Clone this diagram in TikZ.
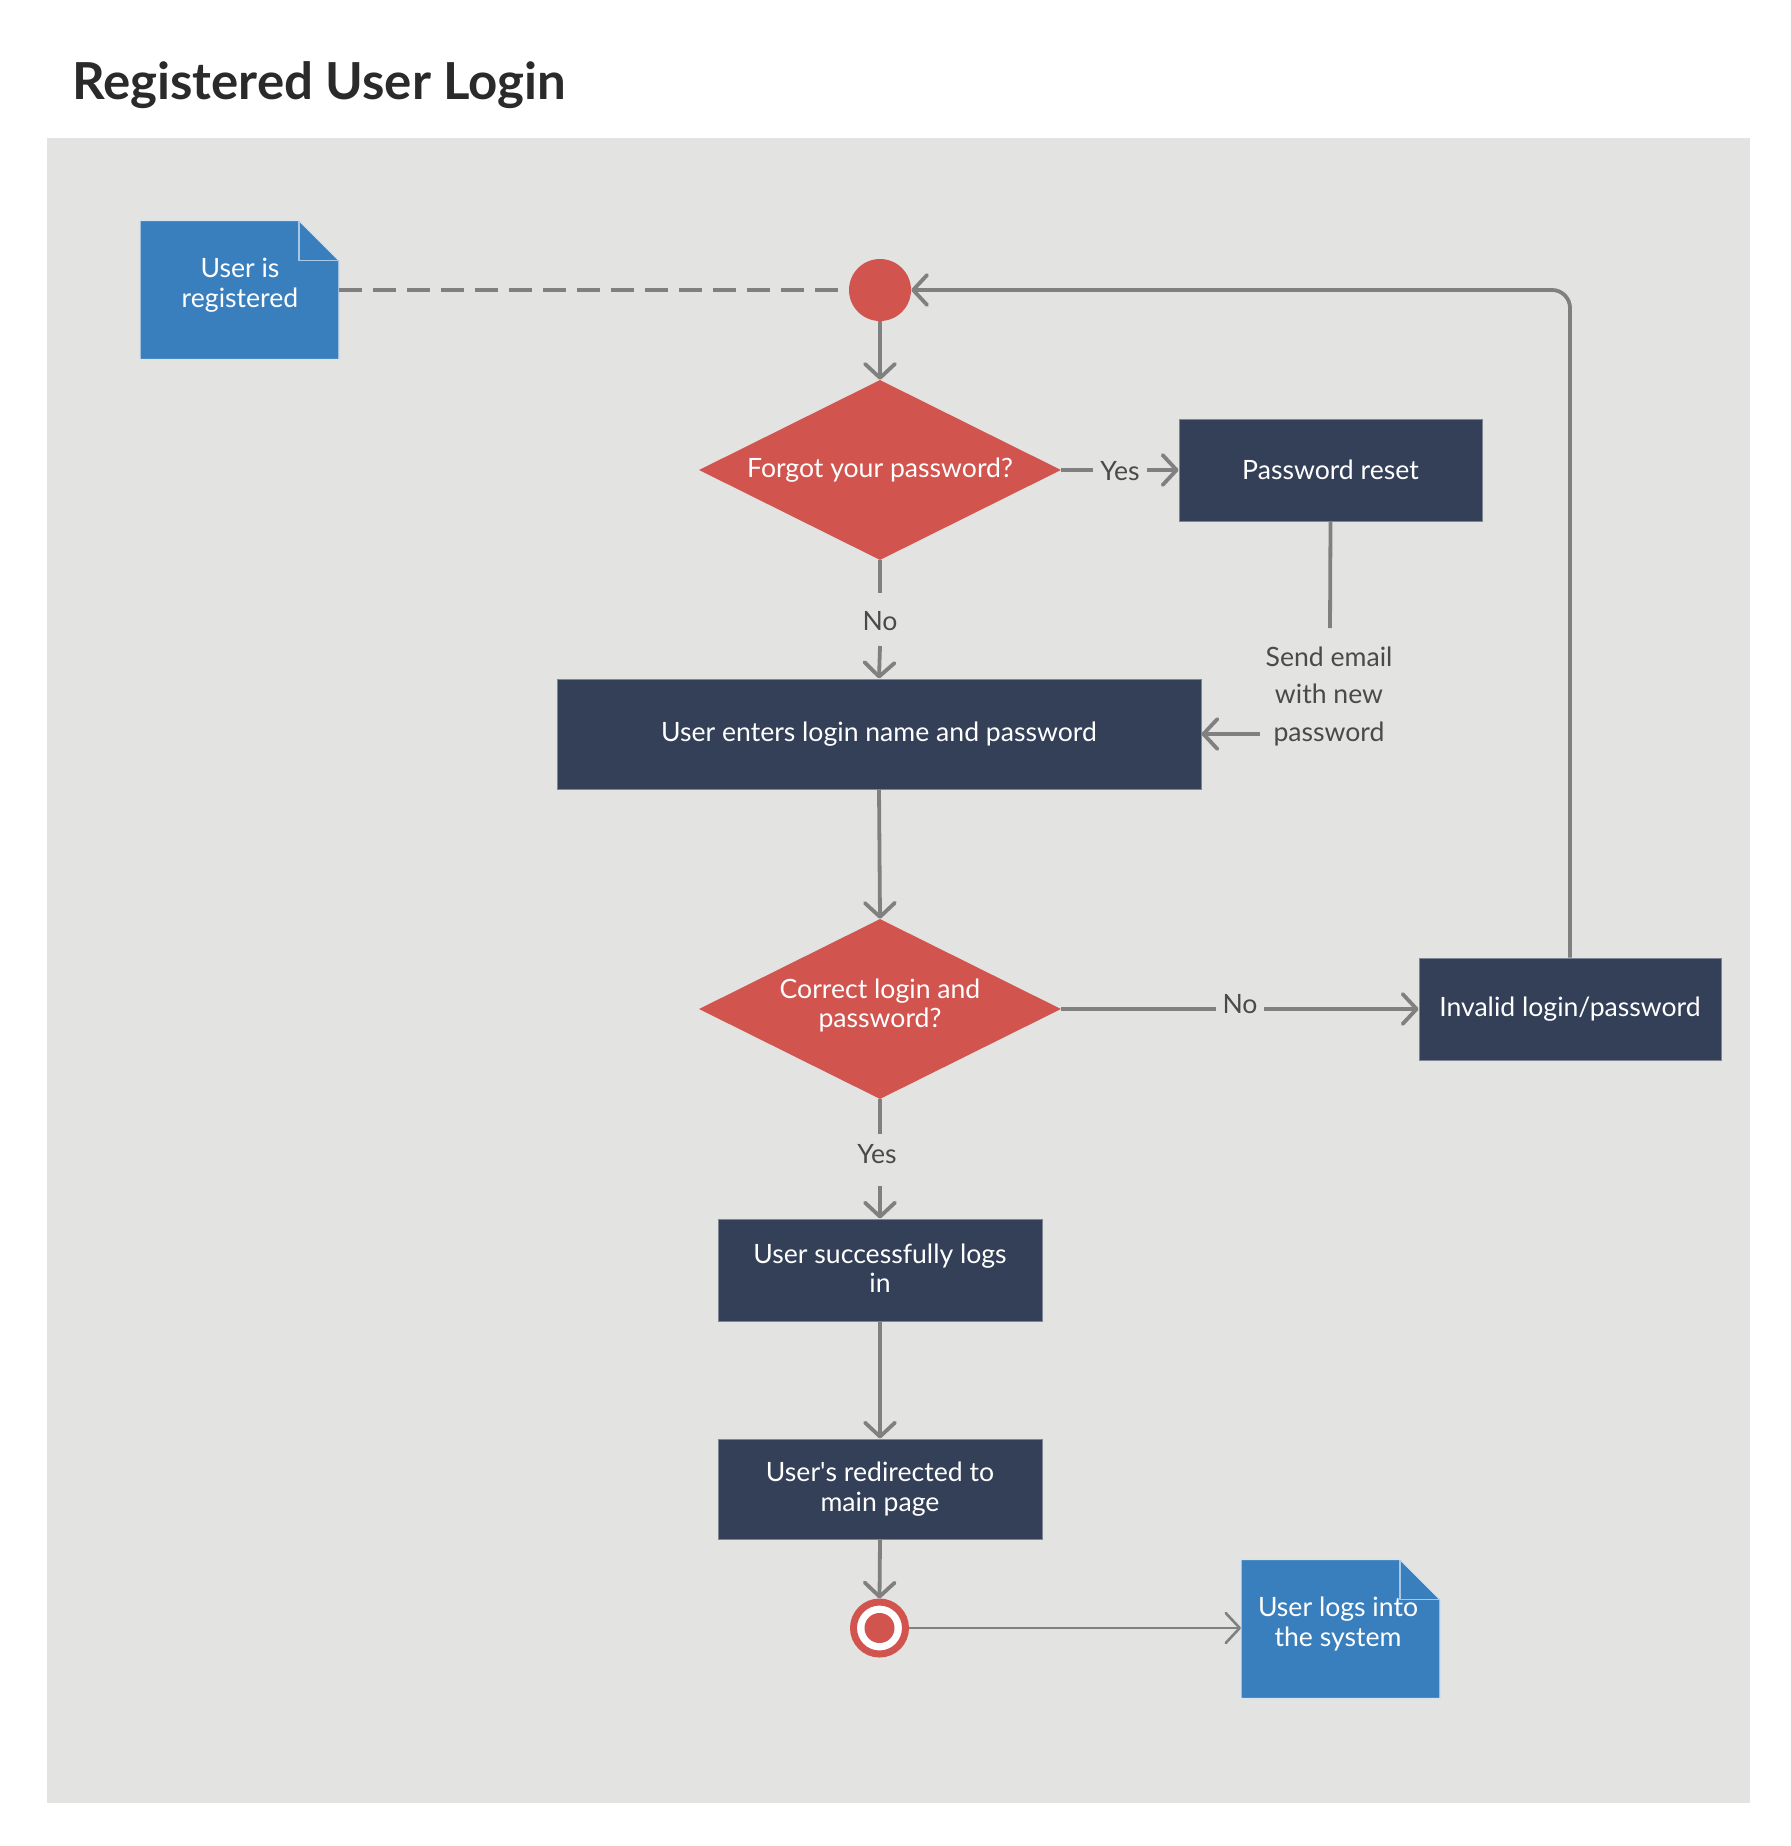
\documentclass[tikz,border=0pt]{standalone}
\usepackage{fontspec}
\setmainfont{Lato}
\usetikzlibrary{shapes.geometric,arrows.meta,calc}
\definecolor{bgc}{HTML}{E3E3E1}
\definecolor{redc}{HTML}{D1544F}
\definecolor{navy}{HTML}{344058}
\definecolor{bluec}{HTML}{3A7FBD}
\definecolor{linec}{HTML}{808080}
\definecolor{lblc}{HTML}{4A4A4A}
\definecolor{titlec}{HTML}{2A2A2A}
\definecolor{boxedge}{HTML}{7E8594}
\definecolor{noteedge}{HTML}{D6E4F2}
\definecolor{foldedge}{HTML}{A9C7E6}
\newcommand\straightquote{\XeTeXglyph\the\XeTeXcharglyph"27\relax}
\newcommand\drawnote[1]{%
  \filldraw[fill=bluec, draw=noteedge, line width=1.2pt]
    (#1.north west) -- ($(#1.north east)+(-40,0)$) -- ($(#1.north east)+(0,40)$)
    -- (#1.south east) -- (#1.south west) -- cycle;
  \draw[foldedge, line width=1.4pt]
    ($(#1.north east)+(-40,0)$) -- ($(#1.north east)+(-40,40)$) -- ($(#1.north east)+(0,40)$);
}
\begin{document}
\begin{tikzpicture}[x=1pt,y=-1pt,
  boxtxt/.style={font=\fontsize{26.6pt}{29.5pt}\selectfont},
  stepbox/.style={rectangle, fill=navy, draw=boxedge, line width=1pt, text=white,
    align=center, inner sep=0pt, boxtxt},
  decision/.style={diamond, aspect=2, fill=redc, text=white, align=center,
    inner sep=0pt, minimum width=362pt, minimum height=180pt, boxtxt},
  notebox/.style={rectangle, draw=none, inner sep=0pt, outer sep=0pt,
    minimum width=199pt, minimum height=139pt},
  notetxt/.style={text=white, align=center, inner sep=0pt,
    font=\fontsize{26.6pt}{30pt}\selectfont},
  lbl/.style={text=lblc, inner sep=0pt, boxtxt},
  conn/.style={draw=linec, line width=3.8pt},
  thinconn/.style={draw=linec, line width=2.6pt},
  arr/.style={-{Straight Barb[length=14pt,width=30pt,round]}},
]
\useasboundingbox (0,0) rectangle (1790,1846);
\fill[white] (0,0) rectangle (1790,1846);
\fill[bgc] (47,138) rectangle (1750,1803);

\node[anchor=base west, inner sep=0pt, text=titlec,
  font=\fontsize{51pt}{60pt}\selectfont\bfseries] (title) at (72,100) {Registered User Login};

% notes
\node[notebox] (n1) at (239.5,290) {};
\drawnote{n1}
\node[notetxt] (n1t) at (240,285) {User is\\registered};

\node[notebox] (n2) at (1340.5,1629) {};
\drawnote{n2}
\node[notetxt] (n2t) at (1338,1624) {User logs into\\the system};

% main nodes
\node[circle, fill=redc, minimum size=62pt, inner sep=0pt] (start) at (880,290) {};
\node[decision] (d1) at (880,470) {Forgot your password?};
\node[stepbox, minimum width=303pt, minimum height=102pt] (pr) at (1330.5,470) {Password reset};
\node[stepbox, minimum width=644pt, minimum height=110pt] (ue) at (879,734) {User enters login name and password};
\node[decision, text depth=12pt] (d2) at (880,1009) {Correct login and\\password?};
\node[stepbox, minimum width=302pt, minimum height=102pt] (il) at (1570,1009) {Invalid login/password};
\node[stepbox, minimum width=324pt, minimum height=102pt, text depth=4pt] (sl) at (880,1270) {User successfully logs\\in};
\node[stepbox, minimum width=324pt, minimum height=100pt] (rd) at (880,1489) {User\straightquote s redirected to\\main page};
\node[circle, draw=redc, line width=7pt, fill=white, minimum size=52pt, inner sep=0pt] (end) at (879.5,1628) {};
\node[circle, fill=redc, minimum size=30pt, inner sep=0pt] (endin) at (end.center) {};

% labels
\node[lbl, anchor=base] (yes1) at (1120,480) {Yes};
\node[lbl, anchor=base] (no1) at (880,630) {No};
\node[lbl, align=center, font=\fontsize{26.6pt}{37.5pt}\selectfont] (se) at (1329,696) {Send email\\with new\\password};
\node[lbl, anchor=base] (no2) at (1240,1013) {No};
\node[lbl, anchor=base] (yes2) at (877,1163) {Yes};

\coordinate (yes1a) at (1093,470);
\coordinate (yes1b) at (1147,470);
\coordinate (no1a) at (880,593);
\coordinate (no1b) at (880,646);
\coordinate (sea) at (1330,628);
\coordinate (seb) at (1260,734);
\coordinate (no2a) at (1216,1009);
\coordinate (no2b) at (1264,1009);
\coordinate (yes2a) at (880,1134);
\coordinate (yes2b) at (880,1186);

% connectors
\draw[conn, dash pattern=on 23pt off 11pt] (n1.east) -- (start.west);
\draw[conn, arr] (start.south) -- (d1.north);
\draw[conn] (d1.east) -- (yes1a);
\draw[conn, arr] (yes1b) -- (pr.west);
\draw[conn] (d1.south) -- (no1a);
\draw[conn, arr] (no1b) -- (ue.north);
\draw[conn] (pr.south) -- (sea);
\draw[conn, arr] (seb) -- (ue.east);
\draw[conn, arr] (ue.south) -- (d2.north);
\draw[conn] (d2.east) -- (no2a);
\draw[conn, arr] (no2b) -- (il.west);
\draw[conn, arr, rounded corners=18pt] (il.north) |- (start.east);
\draw[conn] (d2.south) -- (yes2a);
\draw[conn, arr] (yes2b) -- (sl.north);
\draw[conn, arr] (sl.south) -- (rd.north);
\draw[conn, arr] (rd.south) -- (end.north);
\draw[thinconn, arr] (end.east) -- (end.east -| n2.west);
\end{tikzpicture}
\end{document}
